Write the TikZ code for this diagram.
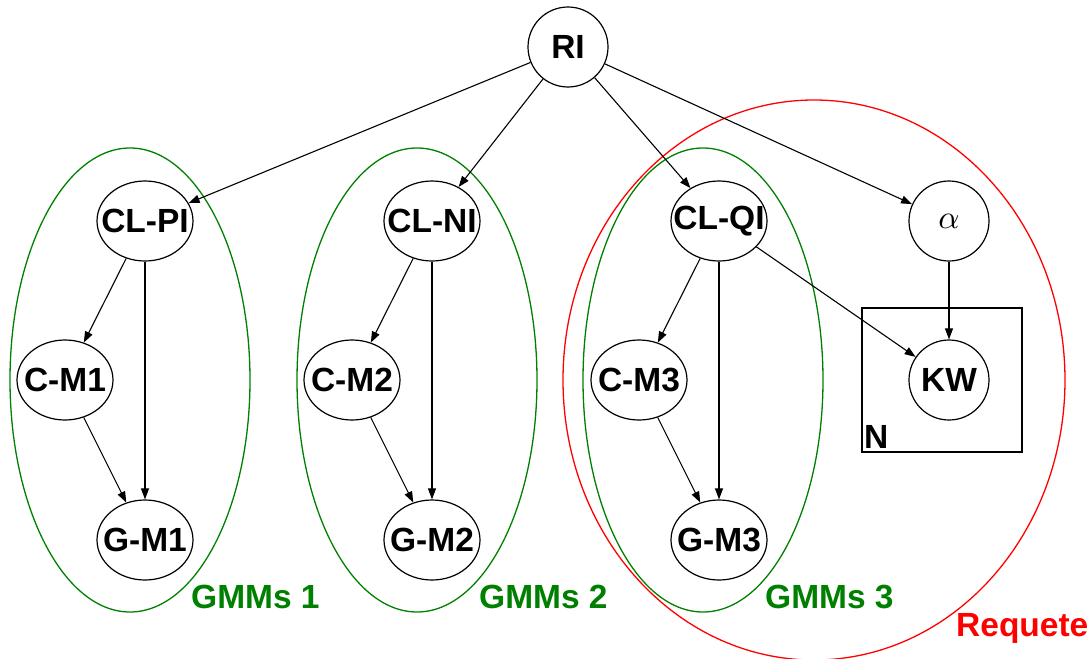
\documentclass[tikz,border=0pt]{standalone}
\usepackage{fontspec}
\setmainfont{Liberation Sans}
\usetikzlibrary{shapes.geometric,arrows.meta}
\definecolor{gmmgreen}{RGB}{0,128,0}
\definecolor{reqred}{RGB}{255,0,0}
\newcommand{\zbox}[1]{\makebox[0pt]{#1}}
\begin{document}
\begin{tikzpicture}[x=1pt,y=-1pt,
  every node/.style={font=\fontsize{33.5}{38}\selectfont\bfseries},
  var/.style={ellipse,draw,line width=1.2pt,minimum width=96pt,minimum height=80pt,inner sep=0pt},
  cvar/.style={circle,draw,line width=1.2pt,minimum size=80pt,inner sep=0pt},
  arr/.style={-{Triangle[length=11pt,width=8pt]},line width=1.1pt},
  grp/.style={draw=gmmgreen,line width=1.3pt},
  grplabel/.style={anchor=west,inner sep=0pt,text=gmmgreen},
]
\useasboundingbox (0,0) rectangle (1088,659);
% group outlines
\draw[grp] (130,380) ellipse [x radius=120pt, y radius=232pt];
\draw[grp] (417,380) ellipse [x radius=120pt, y radius=232pt];
\draw[grp] (703,380) ellipse [x radius=120pt, y radius=232pt];
\draw[draw=reqred,line width=1.3pt] (814,380) ellipse [x radius=251pt, y radius=280pt];
% plate
\draw[line width=1.2pt] (862,308) rectangle (1022,452);
\node[anchor=west,inner sep=0pt] (nlab) at (864,437) {N};
% nodes
\node[cvar] (ri) at (568,47) {RI};
\node[var] (clpi) at (145,221) {\zbox{CL-PI}};
\node[var] (cm1) at (65,380) {\zbox{C-M1}};
\node[var] (gm1) at (145,540) {\zbox{G-M1}};
\node[var] (clni) at (432,221) {\zbox{CL-NI}};
\node[var] (cm2) at (352,380) {\zbox{C-M2}};
\node[var] (gm2) at (432,540) {\zbox{G-M2}};
\node[var] (clqi) at (719,221) {\zbox{CL-QI}};
\node[var] (cm3) at (639,380) {\zbox{C-M3}};
\node[var] (gm3) at (719,540) {\zbox{G-M3}};
\node[cvar,font=\normalfont] (alpha) at (949,221) {\scalebox{3.3}{$\alpha$}};
\node[cvar] (kw) at (949,380) {KW};
% labels
\node[grplabel] (l1) at (191,597) {GMMs 1};
\node[grplabel] (l2) at (479,597) {GMMs 2};
\node[grplabel] (l3) at (765,597) {GMMs 3};
\node[anchor=west,inner sep=0pt,text=reqred] (req) at (956,628) {Requete};
% edges
\draw[arr] (ri) -- (clpi);
\draw[arr] (ri) -- (clni);
\draw[arr] (ri) -- (clqi);
\draw[arr] (ri) -- (alpha);
\draw[arr] (clpi) -- (cm1);
\draw[arr] (clpi.south) -- (gm1.north);
\draw[arr] (cm1) -- (gm1);
\draw[arr] (clni) -- (cm2);
\draw[arr] (clni.south) -- (gm2.north);
\draw[arr] (cm2) -- (gm2);
\draw[arr] (clqi) -- (cm3);
\draw[arr] (clqi.south) -- (gm3.north);
\draw[arr] (cm3) -- (gm3);
\draw[arr] (clqi) -- (kw);
\draw[arr] (alpha) -- (kw);
\end{tikzpicture}
\end{document}
